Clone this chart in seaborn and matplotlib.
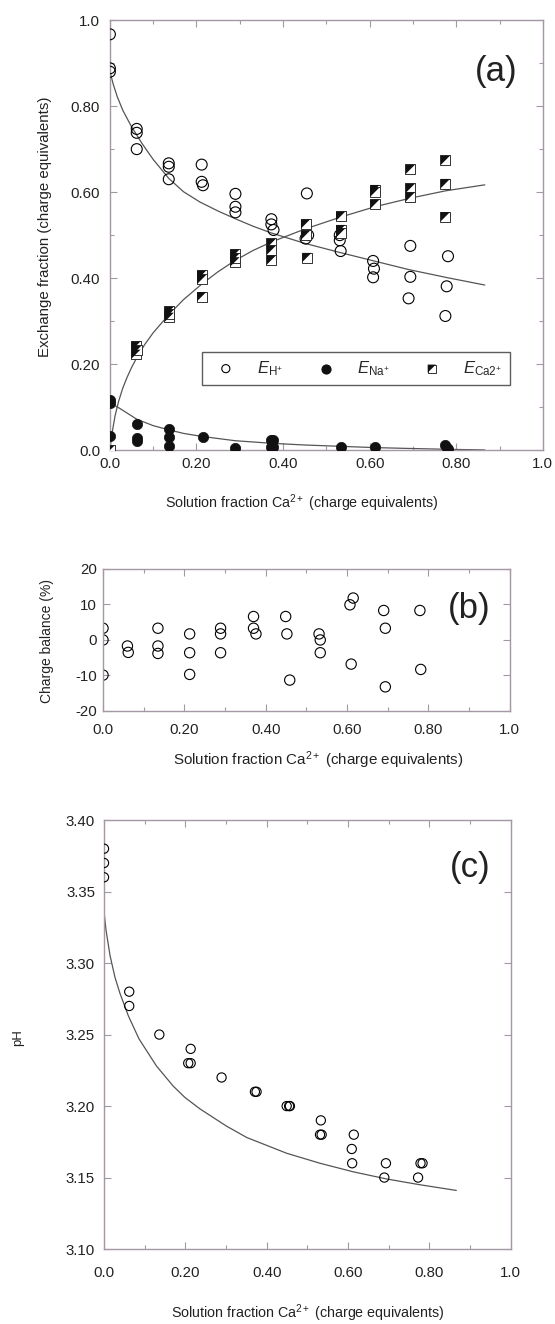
"""
Echange ionique H+/Na+/Ca2+ : fractions echangees, bilan de charge et pH
en fonction de la fraction Ca2+ en solution.
"""
import numpy as np
import pandas as pd
import matplotlib
matplotlib.use("Agg")
import matplotlib.pyplot as plt
import seaborn as sns

sns.set_style("ticks")
plt.rcParams["font.family"] = ["Liberation Sans", "DejaVu Sans"]
plt.rcParams["mathtext.fontset"] = "custom"
plt.rcParams["mathtext.rm"] = "Liberation Sans"
plt.rcParams["mathtext.it"] = "Liberation Sans:italic"

# ---- (a) fractions echangees ----
h_x = [0, 0, 0, 0.062, 0.062, 0.062, 0.136, 0.136, 0.136, 0.212, 0.212, 0.215,
       0.29, 0.29, 0.29, 0.373, 0.373, 0.378, 0.455, 0.452, 0.458,
       0.531, 0.531, 0.533, 0.608, 0.610, 0.608, 0.694, 0.694, 0.690,
       0.781, 0.778, 0.775]
h_y = [0.967, 0.888, 0.880, 0.747, 0.738, 0.700, 0.667, 0.659, 0.630,
       0.664, 0.624, 0.616, 0.596, 0.566, 0.553, 0.537, 0.525, 0.512,
       0.597, 0.492, 0.500, 0.500, 0.488, 0.463, 0.440, 0.422, 0.402,
       0.475, 0.403, 0.353, 0.451, 0.381, 0.312]

na_x = [0, 0, 0, 0.062, 0.062, 0.062, 0.137, 0.137, 0.137, 0.215, 0.289,
        0.373, 0.373, 0.377, 0.377, 0.535, 0.612, 0.774, 0.778, 0.781]
na_y = [0.116, 0.109, 0.033, 0.060, 0.029, 0.022, 0.050, 0.031, 0.009, 0.030,
        0.004, 0.023, 0.008, 0.023, 0.008, 0.008, 0.008, 0.012, 0.005, 0.003]

ca_x = [0, 0.060, 0.060, 0.062, 0.137, 0.137, 0.137, 0.212, 0.212, 0.212,
        0.289, 0.289, 0.289, 0.373, 0.373, 0.373, 0.452, 0.452, 0.455,
        0.533, 0.533, 0.533, 0.612, 0.612, 0.612, 0.694, 0.694, 0.694,
        0.775, 0.775, 0.775]
ca_y = [0.0, 0.242, 0.223, 0.232, 0.323, 0.309, 0.316, 0.407, 0.397, 0.357,
        0.456, 0.438, 0.447, 0.481, 0.465, 0.442, 0.526, 0.500, 0.448,
        0.544, 0.513, 0.505, 0.606, 0.600, 0.572, 0.653, 0.609, 0.589,
        0.674, 0.620, 0.543]

# courbes modele
fit_h_x = [0, 0.008, 0.017, 0.03, 0.05, 0.075, 0.10, 0.136, 0.17, 0.208, 0.25,
           0.29, 0.33, 0.373, 0.45, 0.53, 0.61, 0.69, 0.78, 0.866]
fit_h_y = [0.880, 0.850, 0.822, 0.790, 0.752, 0.712, 0.676, 0.632, 0.601,
           0.577, 0.556, 0.538, 0.521, 0.505, 0.481, 0.460, 0.440, 0.420,
           0.401, 0.384]

fit_ca_x = [0, 0.005, 0.012, 0.02, 0.03, 0.04, 0.05, 0.062, 0.08, 0.10, 0.137,
            0.17, 0.212, 0.25, 0.289, 0.33, 0.373, 0.45, 0.533, 0.612, 0.694,
            0.775, 0.866]
fit_ca_y = [0.0, 0.040, 0.080, 0.113, 0.145, 0.170, 0.192, 0.215, 0.245,
            0.273, 0.316, 0.350, 0.386, 0.415, 0.441, 0.464, 0.484, 0.514,
            0.542, 0.566, 0.586, 0.603, 0.617]

fit_na_x = [0, 0.023, 0.062, 0.10, 0.137, 0.17, 0.212, 0.289, 0.373, 0.45,
            0.53, 0.61, 0.69, 0.78, 0.866]
fit_na_y = [0.110, 0.097, 0.072, 0.057, 0.047, 0.039, 0.032, 0.022, 0.016,
            0.012, 0.009, 0.006, 0.004, 0.002, 0.0005]

# ---- (b) bilan de charge ----
cb_x = [0, 0, 0, 0.060, 0.062, 0.135, 0.135, 0.135, 0.213, 0.213, 0.213,
        0.289, 0.289, 0.289, 0.370, 0.370, 0.376, 0.449, 0.452, 0.459,
        0.531, 0.534, 0.534, 0.607, 0.615, 0.610, 0.690, 0.694, 0.694,
        0.779, 0.781]
cb_y = [3.3, 0, -9.9, -1.7, -3.5, 3.3, -1.7, -3.8, 1.7, -3.6, -9.7,
        3.3, 1.7, -3.6, 6.6, 3.3, 1.7, 6.6, 1.7, -11.3,
        1.7, 0, -3.6, 9.9, 11.8, -6.8, 8.3, 3.3, -13.2, 8.3, -8.3]

# ---- (c) pH ----
ph_x = [0, 0, 0, 0.062, 0.062, 0.136, 0.213, 0.207, 0.213, 0.289,
        0.371, 0.375, 0.449, 0.455, 0.457, 0.533, 0.531, 0.535,
        0.614, 0.609, 0.610, 0.693, 0.689, 0.778, 0.783, 0.772]
ph_y = [3.38, 3.37, 3.36, 3.28, 3.27, 3.25, 3.24, 3.23, 3.23, 3.22,
        3.21, 3.21, 3.20, 3.20, 3.20, 3.19, 3.18, 3.18,
        3.18, 3.17, 3.16, 3.16, 3.15, 3.16, 3.16, 3.15]

fit_ph_x = [0, 0.005, 0.015, 0.027, 0.039, 0.060, 0.086, 0.129, 0.170, 0.199,
            0.236, 0.301, 0.351, 0.449, 0.531, 0.613, 0.695, 0.776, 0.866]
fit_ph_y = [3.336, 3.323, 3.305, 3.290, 3.279, 3.263, 3.247, 3.228, 3.214,
            3.206, 3.198, 3.186, 3.178, 3.167, 3.160, 3.154, 3.149, 3.145,
            3.141]

x_ticks = [0, 0.2, 0.4, 0.6, 0.8, 1.0]
x_ticklabels = ["0.0", "0.20", "0.40", "0.60", "0.80", "1.0"]
a_ticklabels = ["0.0", "0.20", "0.40", "0.60", "0.80", "1.0"]
b_ticks = [-20, -10, 0, 10, 20]
b_ticklabels = ["-20", "-10", "0", "10", "20"]
c_ticks = [3.10, 3.15, 3.20, 3.25, 3.30, 3.35, 3.40]
c_ticklabels = ["3.10", "3.15", "3.20", "3.25", "3.30", "3.35", "3.40"]

XLABEL = "Solution fraction Ca$^{2+}$ (charge equivalents)"
SPINE = "#a498a4"
TXT = "#222222"
LINE = "#555555"

# triangle superieur gauche pour le carre a moitie rempli
half_sq = [(-1, -1), (-1, 1), (1, 1), (-1, -1)]


def style_axes(ax, xpad, ypad):
    for s in ax.spines.values():
        s.set_visible(True)
        s.set_color(SPINE)
        s.set_linewidth(1.0)
    ax.tick_params(which="both", direction="in", top=True, right=True,
                   color=SPINE, labelcolor=TXT, labelsize=10.8)
    ax.tick_params(which="major", length=5, width=0.8)
    ax.tick_params(which="minor", length=3, width=0.8)
    ax.tick_params(axis="x", pad=xpad)
    ax.tick_params(axis="y", pad=ypad)
    ax.set_xlim(0, 1.0)
    ax.set_xticks(x_ticks)
    ax.set_xticklabels(x_ticklabels)
    ax.set_xticks(np.arange(0.1, 1.0, 0.2), minor=True)


fig = plt.figure(figsize=(5.55, 13.24), dpi=100)
ax_a = fig.add_axes([0.198, 0.660, 0.780, 0.3248])
ax_b = fig.add_axes([0.1856, 0.463, 0.733, 0.1073])
ax_c = fig.add_axes([0.1874, 0.0566, 0.733, 0.324])

# ==== (a) ====
ax = ax_a
sns.lineplot(x=fit_h_x, y=fit_h_y, ax=ax, color=LINE, lw=0.9, sort=False)
sns.lineplot(x=fit_ca_x, y=fit_ca_y, ax=ax, color=LINE, lw=0.9, sort=False)
sns.lineplot(x=fit_na_x, y=fit_na_y, ax=ax, color=LINE, lw=0.9, sort=False)
sns.scatterplot(x=h_x, y=h_y, ax=ax, marker="o", s=62, facecolor="none",
                edgecolor="black", linewidth=0.8, zorder=3)
sns.scatterplot(x=na_x, y=na_y, ax=ax, marker="o", s=55, color="#111111",
                edgecolor="#111111", linewidth=0.5, zorder=3)
sns.scatterplot(x=ca_x, y=ca_y, ax=ax, marker="s", s=44, color="white",
                edgecolor="#333333", linewidth=0.7, zorder=3)
sns.scatterplot(x=ca_x, y=ca_y, ax=ax, marker=half_sq, s=44, color="#111111",
                edgecolor="none", linewidth=0, zorder=4)
ax.set_ylim(0, 1.0)
style_axes(ax, xpad=5, ypad=7)
ax.set_yticks(x_ticks)
ax.set_yticklabels(a_ticklabels)
ax.set_yticks(np.arange(0.1, 1.0, 0.2), minor=True)
ax.set_xlabel(XLABEL, fontsize=10.3, color=TXT, va="center")
ax.xaxis.set_label_coords(0.443, -0.123)
ax.set_ylabel("Exchange fraction (charge equivalents)", fontsize=10.8,
              color=TXT, va="center")
ax.yaxis.set_label_coords(-0.150, 0.52)
ax.text(0.893, 0.88, "(a)", transform=ax.transAxes, fontsize=25,
        ha="center", va="center", color=TXT)

# legende
h1 = ax.scatter([], [], marker="o", s=34, facecolor="none", edgecolor="black",
                linewidth=0.8)
h2 = ax.scatter([], [], marker="o", s=40, color="#111111")
h3a = ax.scatter([], [], marker="s", s=34, color="white", edgecolor="#333333",
                 linewidth=0.7)
h3b = ax.scatter([], [], marker=half_sq, s=34, color="#111111", edgecolor="none")
leg = ax.legend([h1, h2, (h3a, h3b)],
                [r"$E_{\mathrm{H^{+}}}$", r"$E_{\mathrm{Na^{+}}}$",
                 r"$E_{\mathrm{Ca2^{+}}}$"],
                ncol=3, loc="lower left", mode="expand",
                bbox_to_anchor=(0.212, 0.151, 0.712, 0.075),
                borderaxespad=0, frameon=True, fancybox=False, fontsize=12,
                handletextpad=0.9, borderpad=0.45, columnspacing=1.0)
leg.get_frame().set_edgecolor("#333333")
leg.get_frame().set_linewidth(1.0)

# ==== (b) ====
ax = ax_b
sns.scatterplot(x=cb_x, y=cb_y, ax=ax, marker="o", s=55, facecolor="none",
                edgecolor="black", linewidth=0.8)
ax.set_ylim(-20, 20)
style_axes(ax, xpad=9, ypad=4.5)
ax.set_yticks(b_ticks)
ax.set_yticklabels(b_ticklabels)
ax.set_xlabel(XLABEL, fontsize=10.9, color=TXT, va="center")
ax.xaxis.set_label_coords(0.528, -0.345)
ax.set_ylabel("Charge balance (%)", fontsize=10, color=TXT, va="center")
ax.yaxis.set_label_coords(-0.138, 0.493)
ax.text(0.9, 0.72, "(b)", transform=ax.transAxes, fontsize=25,
        ha="center", va="center", color=TXT)

# ==== (c) ====
ax = ax_c
sns.lineplot(x=fit_ph_x, y=fit_ph_y, ax=ax, color=LINE, lw=0.9, sort=False)
sns.scatterplot(x=ph_x, y=ph_y, ax=ax, marker="o", s=44, facecolor="none",
                edgecolor="black", linewidth=0.8, zorder=3)
ax.set_ylim(3.10, 3.40)
style_axes(ax, xpad=12, ypad=6.5)
ax.set_yticks(c_ticks)
ax.set_yticklabels(c_ticklabels)
ax.set_xlabel(XLABEL, fontsize=10.3, color=TXT, va="center")
ax.xaxis.set_label_coords(0.501, -0.149)
ax.set_ylabel("pH", fontsize=9.5, color=TXT, va="center")
ax.yaxis.set_label_coords(-0.211, 0.494)
ax.text(0.9, 0.89, "(c)", transform=ax.transAxes, fontsize=25,
        ha="center", va="center", color=TXT)

plt.savefig("out.png", dpi=100)
plt.close()
